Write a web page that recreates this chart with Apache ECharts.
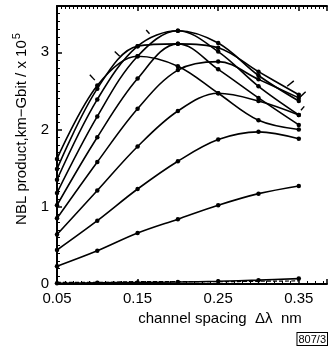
<!DOCTYPE html>
<html>
<head>
<meta charset="utf-8">
<script src="https://cdn.jsdelivr.net/npm/echarts@6/dist/echarts.min.js"></script>
<style>
html,body{margin:0;padding:0;background:#fff;}
#chart{width:330px;height:351px;}
</style>
</head>
<body>
<div id="chart"></div>
<script>
const xValues = [0.05, 0.10, 0.15, 0.20, 0.25, 0.30, 0.35];
const curve1 = [1.62, 2.57, 2.95, 2.82, 2.47, 2.12, 2.00];
const curve2 = [1.49, 2.53, 3.08, 3.11, 2.78, 2.41, 2.06];
const curve3 = [1.35, 2.39, 3.08, 3.28, 3.01, 2.56, 2.19];
const curve4 = [1.18, 2.17, 2.95, 3.28, 3.12, 2.70, 2.37];
const curve5 = [1.02, 1.90, 2.66, 3.11, 3.06, 2.75, 2.45];
const curve6 = [0.85, 1.58, 2.27, 2.77, 2.88, 2.65, 2.41];
const curve7 = [0.64, 1.21, 1.78, 2.24, 2.47, 2.37, 2.19];
const curve8 = [0.44, 0.82, 1.23, 1.59, 1.87, 1.97, 1.88];
const curve9 = [0.23, 0.43, 0.66, 0.84, 1.02, 1.17, 1.27];
const curve10 = [0.01, 0.015, 0.02, 0.025, 0.035, 0.05, 0.07];
const dashedBase = [0.02, 0.02, 0.03, 0.03, 0.03, 0.035, 0.04];
const curves = [curve1, curve2, curve3, curve4, curve5, curve6, curve7, curve8, curve9, curve10];
const xTickLabels = ['0.05', '0.15', '0.25', '0.35'];
const yTickLabels = ['0', '1', '2', '3'];
// small slanted marker strokes on curves: [x1, y1, x2, y2] in data units
const markerStrokes = [
  [0.0907, 2.71, 0.0969, 2.64],
  [0.1216, 3.01, 0.1278, 2.95],
  [0.1607, 3.29, 0.1648, 3.24],
  [0.3356, 2.56, 0.3438, 2.63],
  [0.3515, 2.42, 0.3585, 2.49],
  [0.3527, 2.25, 0.3568, 2.30]
];

const FONT = 'Liberation Sans';
const chart = echarts.init(document.getElementById('chart'));

const series = curves.map(c => ({
  type: 'line',
  data: xValues.map((x, i) => [x, c[i]]),
  smooth: 0.35,
  symbol: 'circle',
  symbolSize: 4.5,
  itemStyle: {color: '#000'},
  lineStyle: {color: '#000', width: 1.6},
  silent: true,
  animation: false
}));
series.push({
  type: 'line',
  data: xValues.map((x, i) => [x, dashedBase[i]]),
  smooth: 0.3,
  symbol: 'none',
  lineStyle: {color: '#000', width: 1.2, type: [4, 2]},
  animation: false
});
series.push({
  type: 'lines',
  coordinateSystem: 'cartesian2d',
  data: markerStrokes.map(s => ({coords: [[s[0], s[1]], [s[2], s[3]]]})),
  lineStyle: {color: '#000', width: 1.4, opacity: 1},
  symbol: 'none',
  animation: false
});

chart.setOption({
  animation: false,
  backgroundColor: '#fff',
  grid: {left: 57, right: 0, top: 6, bottom: 67},
  xAxis: [{
    type: 'value', min: 0.05, max: 0.385, interval: 0.1, position: 'bottom',
    axisLine: {show: true, lineStyle: {color: '#000', width: 2}},
    axisTick: {show: true, inside: true, length: 5, lineStyle: {color: '#000', width: 1.5}},
    minorTick: {show: true, splitNumber: 10, length: 3, lineStyle: {color: '#000', width: 1}},
    splitLine: {show: false},
    axisLabel: {
      color: '#000', fontFamily: FONT, fontSize: 15, margin: 7,
      formatter: v => { const s = v.toFixed(2); return xTickLabels.includes(s) ? s : ''; }
    },
    name: 'channel spacing  \u0394\u03bb  nm',
    nameLocation: 'middle', nameGap: 25,
    nameTextStyle: {color: '#000', fontFamily: FONT, fontSize: 15, padding: [0, 0, 0, 56]}
  }, {
    type: 'value', min: 0.05, max: 0.385, interval: 0.1, position: 'top',
    axisLine: {show: true, lineStyle: {color: '#000', width: 2}},
    axisTick: {show: true, inside: true, length: 5, lineStyle: {color: '#000', width: 1.5}},
    minorTick: {show: true, splitNumber: 20, length: 3, lineStyle: {color: '#000', width: 1}},
    splitLine: {show: false},
    axisLabel: {show: false}
  }],
  yAxis: [{
    type: 'value', min: 0, max: 3.6, interval: 1,
    axisLine: {show: true, lineStyle: {color: '#000', width: 2}},
    axisTick: {show: true, inside: true, length: 5, lineStyle: {color: '#000', width: 1.5}},
    minorTick: {show: true, splitNumber: 10, length: 3, lineStyle: {color: '#000', width: 1}},
    splitLine: {show: false},
    axisLabel: {
      color: '#000', fontFamily: FONT, fontSize: 15, margin: 8,
      formatter: v => { const s = String(Math.round(v * 100) / 100); return yTickLabels.includes(s) ? s : ''; }
    },
    name: 'NBL product,km\u2212Gbit / x 10{s|5}',
    nameLocation: 'middle', nameGap: 19, nameRotate: 90,
    nameTextStyle: {
      color: '#000', fontFamily: FONT, fontSize: 15, padding: [0, 0, 0, 32],
      rich: {s: {fontFamily: FONT, fontSize: 11, color: '#000', padding: [0, 0, 10, 1]}}
    }
  }],
  graphic: [{
    type: 'text', right: 2, bottom: 5,
    style: {
      text: '807/3', fontFamily: FONT, fontSize: 11, fill: '#000',
      borderColor: '#000', borderWidth: 1, padding: [1, 1, 0, 1], backgroundColor: '#fff'
    }
  }],
  series: series
});
</script>
</body>
</html>
